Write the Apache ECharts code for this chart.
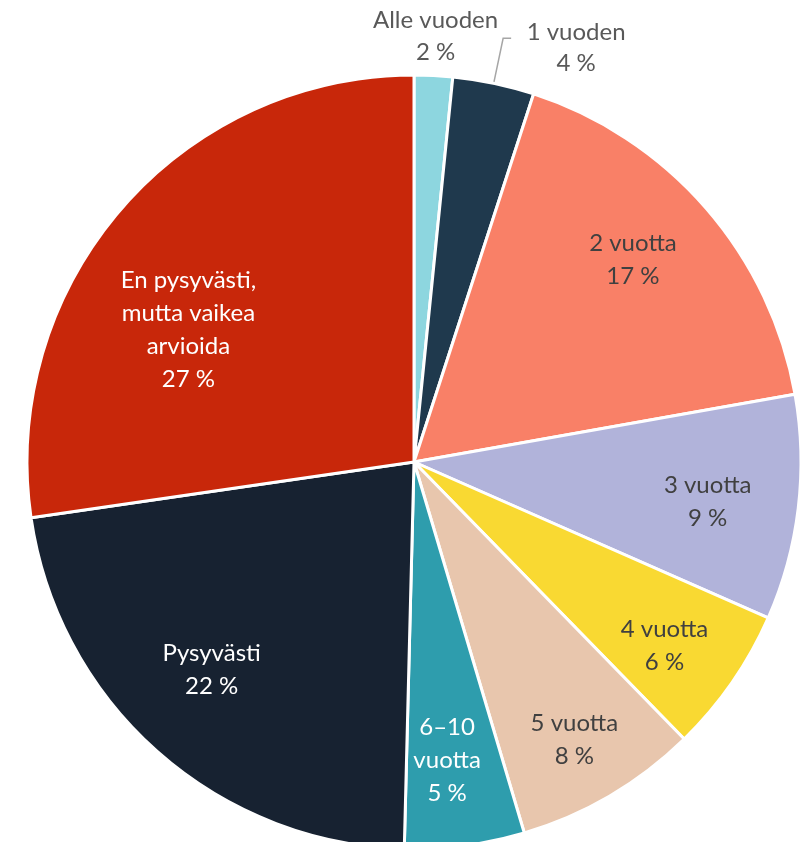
<!DOCTYPE html>
<html>
<head>
    <meta charset="utf-8">
    <title></title>
    <script src="https://cdn.jsdelivr.net/npm/echarts@6/dist/echarts.min.js"></script>
    <style>
        html, body { margin: 0; padding: 0; background: #fff; }
        #main { width: 808px; height: 842px; }
    </style>
</head>
<body>
<div id="main"></div>
<script type="text/javascript">
    // luokat (myötäpäivään ylhäältä)
    var names = ['Alle vuoden', '1 vuoden', '2 vuotta', '3 vuotta', '4 vuotta', '5 vuotta',
        '6–10\nvuotta', 'Pysyvästi', 'En pysyvästi,\nmutta vaikea\narvioida'];
    // osuudet (luettu kuvasta)
    var shares = [1.6, 3.4, 17.2, 9.4, 6.1, 7.7, 5.0, 22.3, 27.3];
    // näytettävät prosentit
    var pctLabels = ['2 %', '4 %', '17 %', '9 %', '6 %', '8 %', '5 %', '22 %', '27 %'];
    var colors = ['#8dd6df', '#1f394d', '#f98067', '#b1b3da', '#f9d932', '#e8c6ad', '#2e9dad', '#172231', '#c8270a'];
    var textColors = ['#595959', '#595959', '#404040', '#404040', '#404040', '#404040', '#ffffff', '#ffffff', '#ffffff'];

    var cx = 414, cy = 462, R = 387;
    var font = 'Lato';
    // tekstien siirrot (Excel ei aina keskitä sektorin keskikulmaan)
    var shiftX = [0, 9, -11, -9, 0, 6, -7, 0, 5];
    var shiftY = [3, 9, -2, 3, 10, 15, -4, -20, 67];

    function makeData(withColor) {
        var d = [];
        for (var i = 0; i < names.length; i++) {
            d.push({
                name: names[i],
                value: shares[i],
                itemStyle: withColor ? { color: colors[i] } : { color: 'rgba(0,0,0,0)', borderWidth: 0 }
            });
        }
        return d;
    }

    function shift(params) {
        var i = params.dataIndex;
        return { dx: shiftX[i], dy: shiftY[i] };
    }

    // pääpiirakka
    var mainData = makeData(true);
    for (var i = 0; i < mainData.length; i++) {
        mainData[i].label = { show: false };
        mainData[i].labelLine = { show: false };
    }
    mainData[1].label = {
        show: true,
        position: 'outside',
        formatter: '{a|' + names[1] + '}\n{a|' + pctLabels[1] + '}',
        distanceToLabelLine: 6,
        rich: { a: { width: 100, align: 'center', fontSize: 24, lineHeight: 31, fontFamily: font, color: '#595959' } }
    };
    mainData[1].labelLine = { show: true, length: 46, length2: 8, lineStyle: { color: '#a6a6a6', width: 1.5 } };

    // sisäiset tekstit
    var innerData = makeData(false);
    for (var i = 0; i < innerData.length; i++) {
        innerData[i].label = {
            show: i > 1,
            color: textColors[i],
            formatter: names[i] + '\n' + pctLabels[i]
        };
    }

    // "Alle vuoden" teksti piirakan yläpuolella
    var topData = makeData(false);
    for (var i = 0; i < topData.length; i++) {
        topData[i].label = { show: i == 0, color: textColors[i], formatter: names[i] + '\n' + pctLabels[i] };
    }

    var chart = echarts.init(document.getElementById('main'));
    var option = {
        animation: false,
        series: [{
            type: 'pie',
            center: [cx, cy],
            radius: [0, R],
            startAngle: 90,
            clockwise: true,
            avoidLabelOverlap: false,
            itemStyle: { borderColor: '#ffffff', borderWidth: 3 },
            labelLayout: shift,
            emphasis: { disabled: true },
            data: mainData
        }, {
            type: 'pie',
            silent: true,
            center: [cx, cy],
            radius: [R * 0.56, R],
            startAngle: 90,
            clockwise: true,
            avoidLabelOverlap: false,
            label: { position: 'inside', fontSize: 24, lineHeight: 33, fontFamily: font },
            labelLine: { show: false },
            labelLayout: shift,
            emphasis: { disabled: true },
            data: innerData
        }, {
            type: 'pie',
            silent: true,
            center: [cx, cy],
            radius: [R + 12, R + 66],
            startAngle: 90,
            clockwise: true,
            avoidLabelOverlap: false,
            label: { position: 'inside', fontSize: 24, lineHeight: 32, fontFamily: font },
            labelLine: { show: false },
            labelLayout: shift,
            emphasis: { disabled: true },
            data: topData
        }]
    };
    chart.setOption(option);
</script>
</body>
</html>
